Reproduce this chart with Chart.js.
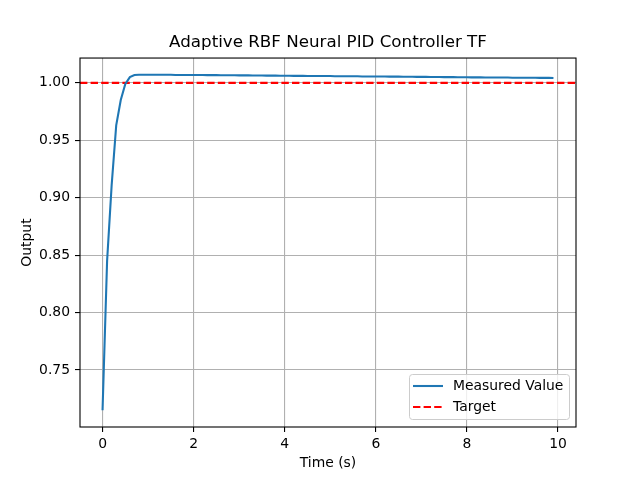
<!DOCTYPE html>
<html>
<head>
<meta charset="utf-8">
<script src="https://cdn.jsdelivr.net/npm/chart.js@4/dist/chart.umd.min.js"></script>
<style>
  html, body { margin: 0; padding: 0; background: #fff; }
  #wrap { width: 640px; height: 480px; }
</style>
</head>
<body>
<div id="wrap"><canvas id="pidChart" width="640" height="480"></canvas></div>
<script>
// time axis (s)
var times = [
  0.0, 0.1, 0.2, 0.3, 0.4, 0.5, 0.6, 0.7, 0.8, 0.9,
  1.0, 1.1, 1.2, 1.3, 1.4, 1.5, 1.6, 1.7, 1.8, 1.9,
  2.0, 2.1, 2.2, 2.3, 2.4, 2.5, 2.6, 2.7, 2.8, 2.9,
  3.0, 3.1, 3.2, 3.3, 3.4, 3.5, 3.6, 3.7, 3.8, 3.9,
  4.0, 4.1, 4.2, 4.3, 4.4, 4.5, 4.6, 4.7, 4.8, 4.9,
  5.0, 5.1, 5.2, 5.3, 5.4, 5.5, 5.6, 5.7, 5.8, 5.9,
  6.0, 6.1, 6.2, 6.3, 6.4, 6.5, 6.6, 6.7, 6.8, 6.9,
  7.0, 7.1, 7.2, 7.3, 7.4, 7.5, 7.6, 7.7, 7.8, 7.9,
  8.0, 8.1, 8.2, 8.3, 8.4, 8.5, 8.6, 8.7, 8.8, 8.9,
  9.0, 9.1, 9.2, 9.3, 9.4, 9.5, 9.6, 9.7, 9.8, 9.9
];
// measured output
var measured = [
  0.715, 0.845, 0.911, 0.963, 0.985, 0.999, 1.0050, 1.0068, 1.0071, 1.0071,
  1.0071, 1.0071, 1.0070, 1.0070, 1.0070, 1.0070, 1.0069, 1.0069, 1.0069, 1.0068,
  1.0068, 1.0068, 1.0068, 1.0067, 1.0067, 1.0067, 1.0066, 1.0066, 1.0066, 1.0066,
  1.0065, 1.0065, 1.0065, 1.0064, 1.0064, 1.0064, 1.0063, 1.0063, 1.0063, 1.0062,
  1.0062, 1.0062, 1.0061, 1.0061, 1.0061, 1.0060, 1.0060, 1.0060, 1.0059, 1.0059,
  1.0059, 1.0058, 1.0058, 1.0058, 1.0057, 1.0057, 1.0057, 1.0056, 1.0056, 1.0056,
  1.0055, 1.0055, 1.0055, 1.0054, 1.0054, 1.0054, 1.0053, 1.0053, 1.0053, 1.0052,
  1.0052, 1.0052, 1.0051, 1.0051, 1.0051, 1.0050, 1.0050, 1.0050, 1.0049, 1.0049,
  1.0049, 1.0048, 1.0048, 1.0048, 1.0047, 1.0047, 1.0047, 1.0046, 1.0046, 1.0046,
  1.0045, 1.0045, 1.0045, 1.0044, 1.0044, 1.0044, 1.0043, 1.0043, 1.0043, 1.0042
];
var target = 1.0;
var xTicks = [0, 2, 4, 6, 8, 10];
var yTicks = [0.75, 0.80, 0.85, 0.90, 0.95, 1.00];
var xMin = -0.495, xMax = 10.395;
var yMin = 0.7004, yMax = 1.0216;

var FONT = "'DejaVu Sans', sans-serif";
Chart.defaults.font.family = FONT;
Chart.defaults.color = "#000";

var lineData = times.map(function (t, i) { return { x: t, y: measured[i] }; });
var targetData = [{ x: xMin, y: target }, { x: xMax, y: target }];

// matplotlib-like frame + legend in lower right
var framePlugin = {
  id: "frame",
  afterDraw: function (chart) {
    var ctx = chart.ctx, a = chart.chartArea;
    ctx.save();
    ctx.strokeStyle = "#000";
    ctx.lineWidth = 1.1;
    ctx.strokeRect(a.left, a.top, a.right - a.left, a.bottom - a.top);

    // legend box
    var bx = 409.5, by = 374.5, bw = 160, bh = 45, r = 3;
    ctx.beginPath();
    ctx.moveTo(bx + r, by);
    ctx.arcTo(bx + bw, by, bx + bw, by + bh, r);
    ctx.arcTo(bx + bw, by + bh, bx, by + bh, r);
    ctx.arcTo(bx, by + bh, bx, by, r);
    ctx.arcTo(bx, by, bx + bw, by, r);
    ctx.closePath();
    ctx.fillStyle = "rgba(255,255,255,0.8)";
    ctx.fill();
    ctx.strokeStyle = "#cccccc";
    ctx.lineWidth = 1;
    ctx.stroke();

    ctx.lineWidth = 2.08;
    ctx.strokeStyle = "#1f77b4";
    ctx.beginPath(); ctx.moveTo(413, 386); ctx.lineTo(443, 386); ctx.stroke();
    ctx.strokeStyle = "#ff0000";
    ctx.setLineDash([7.4, 3.2]);
    ctx.beginPath(); ctx.moveTo(413, 407); ctx.lineTo(443, 407); ctx.stroke();
    ctx.setLineDash([]);

    ctx.fillStyle = "#000";
    ctx.font = "13.9px " + FONT;
    ctx.textBaseline = "middle";
    ctx.textAlign = "left";
    ctx.fillText("Measured Value", 453, 386);
    ctx.fillText("Target", 453, 407);
    ctx.restore();
  }
};

var pidChart = new Chart(document.getElementById("pidChart"), {
  type: "line",
  data: {
    datasets: [
      {
        label: "Measured Value",
        data: lineData,
        borderColor: "#1f77b4",
        backgroundColor: "#1f77b4",
        borderWidth: 2.08,
        pointRadius: 0,
        tension: 0,
        fill: false,
      },
      {
        label: "Target",
        data: targetData,
        borderColor: "#ff0000",
        backgroundColor: "#ff0000",
        borderWidth: 2.08,
        borderDash: [7.4, 3.2],
        pointRadius: 0,
        fill: false,
      },
    ],
  },
  options: {
    responsive: false,
    animation: false,
    events: [],
    layout: { padding: { left: 0, right: 64, top: 0, bottom: 0 } },
    plugins: {
      legend: { display: false },
      tooltip: { enabled: false },
      title: {
        display: true,
        text: "Adaptive RBF Neural PID Controller TF",
        fullSize: false,
        font: { size: 16.7, weight: "normal", family: FONT },
        color: "#000",
        padding: { top: 33, bottom: 5 },
      },
    },
    scales: {
      x: {
        type: "linear",
        min: xMin,
        max: xMax,
        afterBuildTicks: function (s) { s.ticks = xTicks.map(function (v) { return { value: v }; }); },
        afterFit: function (s) { s.height = 53; },
        ticks: {
          font: { size: 13.9 },
          color: "#000",
          padding: 4,
          maxRotation: 0,
          callback: function (v) { return String(v); },
        },
        grid: { color: "#b0b0b0", lineWidth: 1.1, tickColor: "#000", tickLength: 5 },
        border: { display: false },
        title: {
          display: true,
          text: "Time (s)",
          font: { size: 13.9 },
          color: "#000",
          padding: { top: 0, bottom: 8 },
        },
      },
      y: {
        type: "linear",
        min: yMin,
        max: yMax,
        afterBuildTicks: function (s) { s.ticks = yTicks.map(function (v) { return { value: v }; }); },
        afterFit: function (s) { s.width = 80; },
        ticks: {
          font: { size: 13.9 },
          color: "#000",
          padding: 5,
          callback: function (v) { return Number(v).toFixed(2); },
        },
        grid: { color: "#b0b0b0", lineWidth: 1.1, tickColor: "#000", tickLength: 5 },
        border: { display: false },
        title: {
          display: true,
          text: "Output",
          font: { size: 13.9 },
          color: "#000",
          padding: { top: 19, bottom: 0 },
        },
      },
    },
  },
  plugins: [framePlugin],
});
</script>
</body>
</html>
